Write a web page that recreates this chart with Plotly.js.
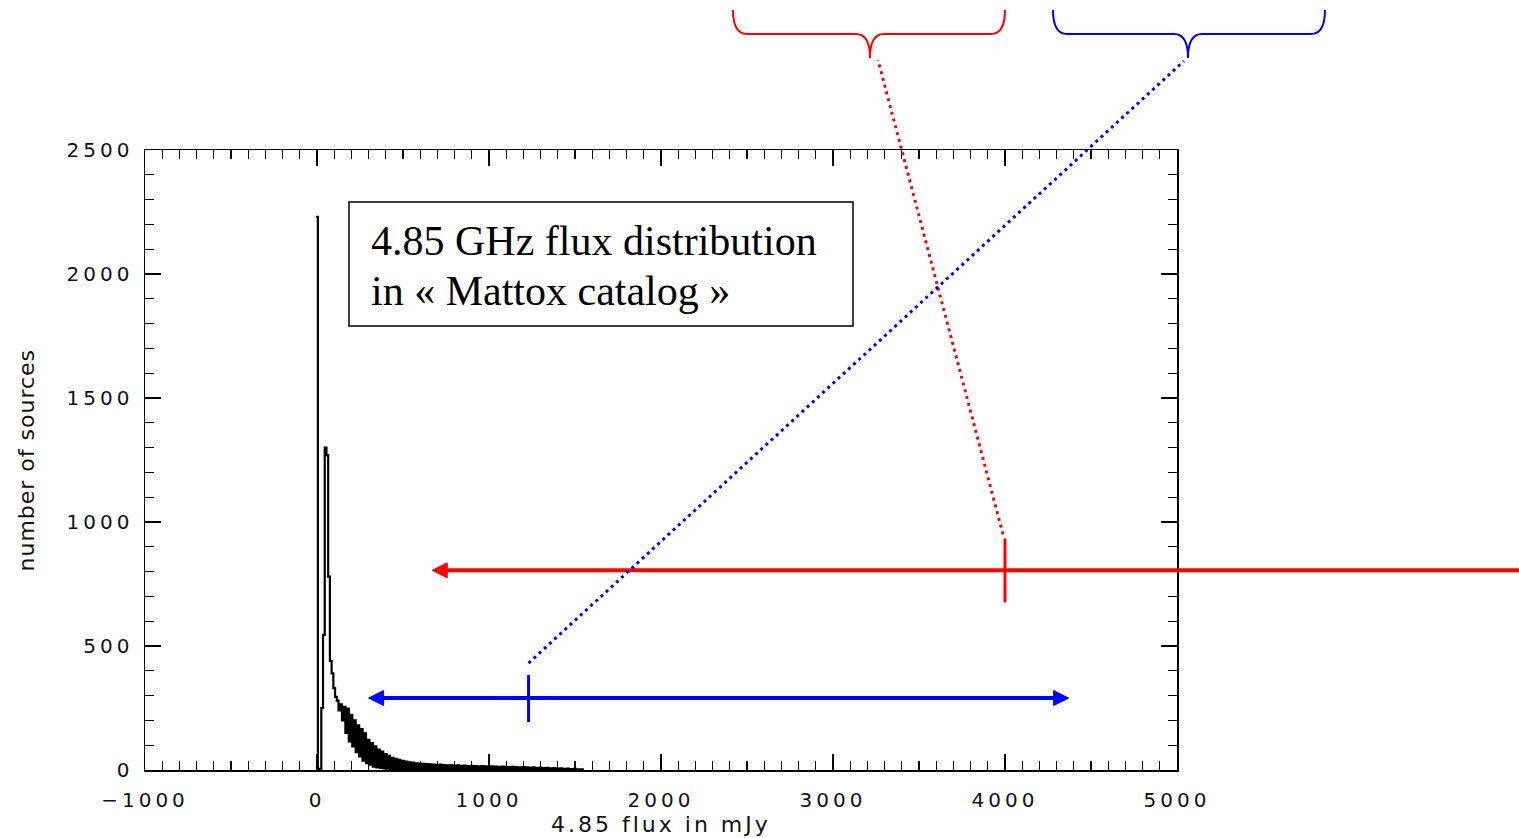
<!DOCTYPE html>
<html>
<head>
<meta charset="utf-8">
<script src="https://cdn.plot.ly/plotly-3.0.1.min.js"></script>
<style>
  html, body { margin: 0; padding: 0; background: #fff; }
  #chart { width: 1519px; height: 838px; }
  .xtick text { letter-spacing: 4px; }
  .ytick text { letter-spacing: 4px; }
</style>
</head>
<body>
<div id="chart"></div>
<script>
// ---------------- data ----------------
const xRange = [-1000, 5000];
const yRange = [0, 2500];
const xTickVals = [-1000, 0, 1000, 2000, 3000, 4000, 5000];
const xTickText = ['\u22121000', '0', '1000', '2000', '3000', '4000', '5000'];
const yTickVals = [0, 500, 1000, 1500, 2000, 2500];
const yTickText = ['0', '500', '1000', '1500', '2000', '2500'];

// histogram of 4.85 GHz flux, 10 mJy bins, first bin centred on 0 mJy
const binWidth = 10;
const binStart = -5;
const counts = [
  2230, 0, 5, 250, 545, 1300, 1270, 780, 440, 390,
  330, 295, 280, 240, 265, 200, 255, 150, 248, 115,
  222, 95, 200, 72, 180, 55, 165, 38, 148, 28,
  122, 22, 108, 14, 95, 10, 82, 8, 74, 6,
  64, 5, 57, 4, 49, 4, 45, 3, 41, 3,
  37, 2, 34, 2, 31, 2, 30, 1, 27, 1,
  26, 1, 25, 0, 24, 1, 23, 0, 22, 1,
  21, 0, 22, 0, 20, 1, 19, 0, 20, 0,
  18, 0, 19, 1, 17, 0, 18, 1, 16, 0,
  17, 1, 16, 0, 15, 0, 16, 1, 15, 0,
  14, 0, 15, 1, 14, 0, 13, 0, 14, 1,
  13, 0, 12, 0, 13, 1, 12, 0, 11, 0,
  12, 0, 11, 1, 10, 0, 11, 0, 9, 0,
  10, 1, 8, 0, 9, 0, 7, 0, 8, 0,
  6, 0, 7, 0, 5, 0, 6, 0, 4, 0,
  5, 0, 3, 0, 3
];

// annotation anchors (data units)
const redFlux = 4000;      // red marker position (mJy)
const redLevel = 805;      // red arrow height (counts)
const redArrowLeft = 670;  // red arrow head (mJy)
const blueFlux = 1230;     // blue marker position (mJy)
const blueLevel = 290;     // blue arrow height (counts)
const blueArrow = [300, 4370]; // blue arrow heads (mJy)

const boxLines = ['4.85 GHz flux distribution', 'in \u00ab Mattox catalog \u00bb'];
const xTitle = '4.85 flux in mJy';
const yTitle = 'number of sources';

// ---------------- geometry ----------------
const W = 1519, H = 838;
const M = { l: 145, r: 342, t: 150, b: 68 };
const PW = W - M.l - M.r, PH = H - M.t - M.b;
const px2x = px => (px - M.l) / PW;
const px2y = py => (M.t + PH - py) / PH;
const dx2px = v => M.l + (v - xRange[0]) / (xRange[1] - xRange[0]) * PW;
const dy2px = v => M.t + PH - (v - yRange[0]) / (yRange[1] - yRange[0]) * PH;

// step histogram edges
const edges = [];
const stepY = [];
for (let i = 0; i < counts.length; i++) { edges.push(binStart + i * binWidth); stepY.push(counts[i]); }
edges.push(binStart + counts.length * binWidth); stepY.push(counts[counts.length - 1]);
edges.push(binStart + counts.length * binWidth); stepY.push(0);

const hist = {
  type: 'scatter', mode: 'lines', x: edges, y: stepY,
  line: { shape: 'hv', color: '#000', width: 2.2 },
  hoverinfo: 'x+y', showlegend: false
};

function P(px, py) { return px2x(px).toFixed(5) + ',' + px2y(py).toFixed(5); }
function lineShape(x0, y0, x1, y1, color, width, dash) {
  return { type: 'line', xref: 'paper', yref: 'paper', x0: px2x(x0), y0: px2y(y0), x1: px2x(x1), y1: px2y(y1),
           line: { color: color, width: width, dash: dash || 'solid' }, layer: 'above' };
}
function tri(tipX, tipY, dir, color) {
  const len = 15, half = 7.5;
  const bx = tipX + dir * len;
  return { type: 'path', xref: 'paper', yref: 'paper',
           path: 'M' + P(tipX, tipY) + ' L' + P(bx, tipY - half) + ' L' + P(bx, tipY + half) + ' Z',
           fillcolor: color, line: { color: color, width: 1 }, layer: 'above' };
}
function brace(xl, xr, tipX, yTop, yMid, yTip, color) {
  const r = 14;
  const path = 'M' + P(xl, yTop) + ' Q' + P(xl, yMid) + ' ' + P(xl + r, yMid) +
    ' L' + P(tipX - r, yMid) + ' Q' + P(tipX, yMid) + ' ' + P(tipX, yTip) +
    ' Q' + P(tipX, yMid) + ' ' + P(tipX + r, yMid) +
    ' L' + P(xr - r, yMid) + ' Q' + P(xr, yMid) + ' ' + P(xr, yTop);
  return { type: 'path', xref: 'paper', yref: 'paper', path: path,
           line: { color: color, width: 2 }, layer: 'above' };
}

const RED = '#ff0000', BLUE = '#0000ff';
const rX = dx2px(redFlux), rY = dy2px(redLevel), rL = dx2px(redArrowLeft);
const bX = dx2px(blueFlux), bY = dy2px(blueLevel), bL = dx2px(blueArrow[0]), bR = dx2px(blueArrow[1]);

const shapes = [
  // text box
  { type: 'rect', xref: 'paper', yref: 'paper', x0: px2x(349), x1: px2x(853), y0: px2y(326), y1: px2y(202),
    line: { color: '#000', width: 1.5 }, fillcolor: '#fff', layer: 'above' },
  // red arrow
  lineShape(rL + 14, rY, W, rY, RED, 4),
  tri(rL, rY, 1, RED),
  lineShape(rX, rY - 32, rX, rY + 32, RED, 3),
  lineShape(rX - 2, rY - 36, 878, 60, RED, 3, '3px,4px'),
  brace(733, 1005, 870, 10, 34, 58, RED),
  // blue arrow
  lineShape(bL + 14, bY, bR - 14, bY, BLUE, 4),
  tri(bL, bY, 1, BLUE),
  tri(bR, bY, -1, BLUE),
  lineShape(bX, bY - 23, bX, bY + 24, BLUE, 3),
  lineShape(bX, bY - 35, 1184, 61, BLUE, 3, '3px,4px'),
  brace(1053, 1325, 1188, 10, 34, 58, BLUE)
];

const tickFont = { family: '"DejaVu Sans", sans-serif', size: 20, color: '#111' };
const titleFont = { family: '"DejaVu Sans", sans-serif', size: 22, color: '#111' };
const boxFont = { family: '"Liberation Serif", "Times New Roman", serif', size: 42, color: '#000' };

const layout = {
  width: W, height: H,
  margin: M,
  paper_bgcolor: '#fff', plot_bgcolor: '#fff',
  showlegend: false,
  xaxis: {
    range: xRange, tickvals: xTickVals, ticktext: xTickText,
    ticks: 'inside', ticklen: 16, tickwidth: 1.2, tickcolor: '#000',
    minor: { dtick: 100, ticks: 'inside', ticklen: 9, tickwidth: 1.2, tickcolor: '#000', showgrid: false },
    showline: true, linecolor: '#000', linewidth: 1.5, mirror: 'ticks',
    showgrid: false, zeroline: false, tickfont: tickFont, ticklabelstandoff: 11
  },
  yaxis: {
    range: yRange, tickvals: yTickVals, ticktext: yTickText,
    ticks: 'inside', ticklen: 16, tickwidth: 1.2, tickcolor: '#000',
    minor: { dtick: 100, ticks: 'inside', ticklen: 9, tickwidth: 1.2, tickcolor: '#000', showgrid: false },
    showline: true, linecolor: '#000', linewidth: 1.5, mirror: 'ticks',
    showgrid: false, zeroline: false, tickfont: tickFont, ticklabelstandoff: 6
  },
  shapes: shapes,
  annotations: [
    { xref: 'paper', yref: 'paper', x: px2x(369), y: px2y(241), xanchor: 'left', yanchor: 'middle',
      text: boxLines[0], showarrow: false, font: boxFont },
    { xref: 'paper', yref: 'paper', x: px2x(369), y: px2y(291), xanchor: 'left', yanchor: 'middle',
      text: boxLines[1], showarrow: false, font: boxFont },
    { xref: 'paper', yref: 'paper', x: 0.5, y: px2y(824), xanchor: 'center', yanchor: 'middle',
      text: xTitle, showarrow: false, font: titleFont },
    { xref: 'paper', yref: 'paper', x: px2x(26), y: px2y(460), xanchor: 'center', yanchor: 'middle', textangle: -90,
      text: yTitle, showarrow: false, font: titleFont }
  ]
};

Plotly.newPlot('chart', [hist], layout, { displayModeBar: false, staticPlot: true }).then(() => {
  // wider letter spacing for the axis titles (Hershey-like look)
  const anns = document.querySelectorAll('.annotation');
  anns.forEach((g, i) => {
    const t = g.querySelector('text');
    if (!t) return;
    if (i === 2) t.style.letterSpacing = '3px';
    if (i === 3) t.style.letterSpacing = '1px';
  });
});
</script>
</body>
</html>
